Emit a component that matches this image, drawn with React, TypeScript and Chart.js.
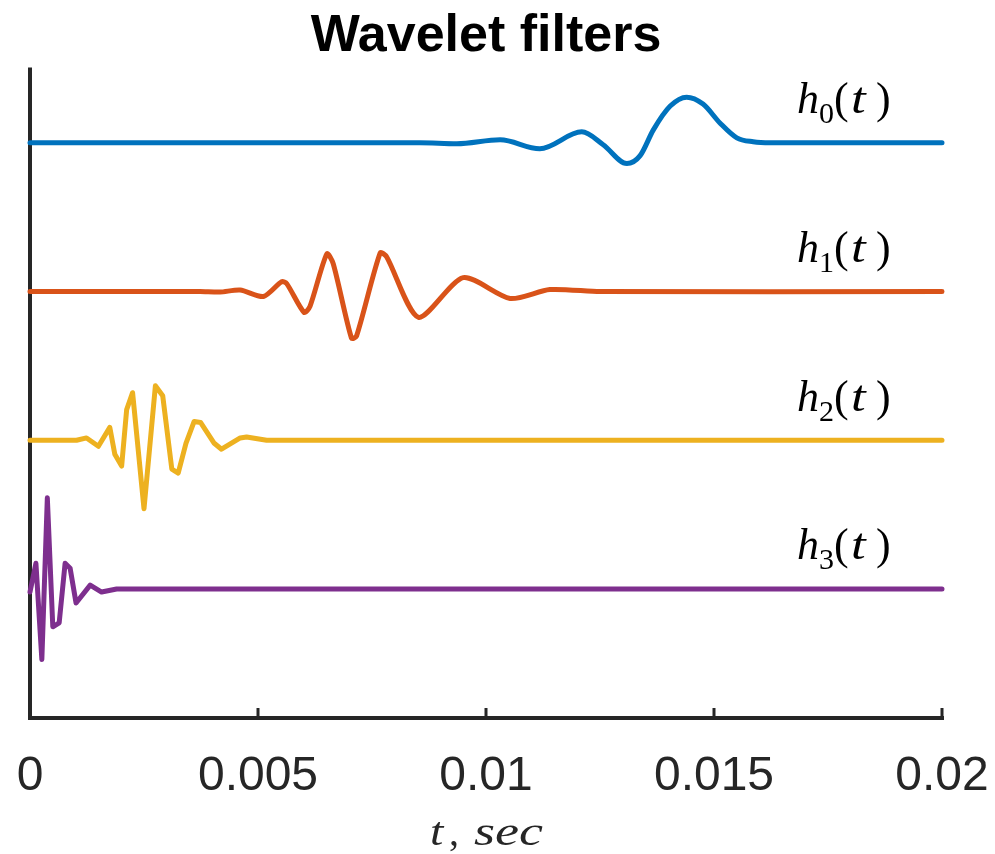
import React, { useEffect, useRef } from 'react';
import { Chart, registerables } from 'chart.js';

Chart.register(...registerables);

const TITLE = 'Wavelet filters';
const X_TICKS = [0, 0.005, 0.01, 0.015, 0.02];
const X_TICK_LABELS = ['0', '0.005', '0.01', '0.015', '0.02'];
const SERIES_SUBSCRIPTS = ['0', '1', '2', '3'];
const SERIES_COLORS = ['#0072BD', '#D95319', '#EDB120', '#7E2F8E'];
const SERIES_OFFSETS = [450, 300, 150, 0];
const LABEL_T = 0.01682;
const LABEL_RISE = 30;

// h0(t)
const T_H0 = [0, 0.00855, 0.00936, 0.01031, 0.01118, 0.0121, 0.01257, 0.01309, 0.01338, 0.01367, 0.01404, 0.0144, 0.01476, 0.01513, 0.0155, 0.01586, 0.01623, 0.02];
const A_H0 = [0, 0, -1, 3, -6, 11, -2, -21, -13, 13, 37, 46, 39, 20, 5, 1, 0, 0];

// h1(t)
const T_H1 = [0, 0.00373, 0.00417, 0.00461, 0.00512, 0.00552, 0.00563, 0.00601, 0.00614, 0.00651, 0.00665, 0.00705, 0.00716, 0.00768, 0.00782, 0.00852, 0.0095, 0.01053, 0.0114, 0.0125, 0.02];
const A_H1 = [0, 0, -0.5, 1.5, -5, 10, 8, -21, -15, 38, 28, -47, -45, 39, 35, -26, 14, -7, 2, 0, 0];

// h2(t)
const T_H2 = [0, 0.00102, 0.00124, 0.0015, 0.00175, 0.00186, 0.00201, 0.00212, 0.00225, 0.0025, 0.00275, 0.00291, 0.00311, 0.00325, 0.00342, 0.0036, 0.00374, 0.00404, 0.0042, 0.00461, 0.00475, 0.00519, 0.02];
const A_H2 = [0, 0, 2.4, -6, 13, -14, -26, 31, 48, -69, 55, 45, -29, -33, -3, 19, 18, -3, -9, 2.4, 3.4, 0, 0];

// h3(t)
const T_H3 = [0, 0.00013, 0.00026, 0.00038, 0.0005, 0.00064, 0.00077, 0.00088, 0.00101, 0.00132, 0.00157, 0.0019, 0.02];
const A_H3 = [-3, 26, -71, 92, -38, -34, 26, 21, -14, 4, -3, 0, 0];

const SERIES_T = [T_H0, T_H1, T_H2, T_H3];
const SERIES_A = [A_H0, A_H1, A_H2, A_H3];
const SERIES_MONOTONE = [true, false, false, false];
const SERIES_TENSION = [0, 0.25, 0, 0];

const AXIS_COLOR = '#262626';
const SANS = '"Liberation Sans", Arial, Helvetica, sans-serif';
const SERIF = '"Liberation Serif", "Times New Roman", serif';

const axesPlugin = {
  id: 'matlabAxes',
  beforeDatasetsDraw(chart: any) {
    const { ctx, chartArea, scales } = chart;
    const xs = scales.x;
    ctx.save();
    ctx.strokeStyle = AXIS_COLOR;
    ctx.lineWidth = 4;
    ctx.lineCap = 'butt';
    ctx.beginPath();
    ctx.moveTo(chartArea.left, chartArea.top);
    ctx.lineTo(chartArea.left, chartArea.bottom);
    ctx.moveTo(chartArea.left - 2, chartArea.bottom);
    ctx.lineTo(chartArea.right + 2, chartArea.bottom);
    ctx.stroke();
    ctx.lineWidth = 3;
    ctx.beginPath();
    X_TICKS.forEach((v) => {
      const px = xs.getPixelForValue(v);
      ctx.moveTo(px, chartArea.bottom);
      ctx.lineTo(px, chartArea.bottom - 10);
    });
    ctx.stroke();
    // tick labels
    ctx.fillStyle = AXIS_COLOR;
    ctx.font = `48px ${SANS}`;
    ctx.textAlign = 'center';
    ctx.textBaseline = 'alphabetic';
    X_TICKS.forEach((v, i) => {
      ctx.fillText(X_TICK_LABELS[i], xs.getPixelForValue(v), chartArea.bottom + 72);
    });
    ctx.restore();
  },
};

function drawScaled(ctx: CanvasRenderingContext2D, text: string, x: number, y: number, sx: number) {
  ctx.save();
  ctx.translate(x, y);
  ctx.scale(sx, 1);
  ctx.fillText(text, 0, 0);
  ctx.restore();
}

const textPlugin = {
  id: 'mathText',
  afterDraw(chart: any) {
    const { ctx, chartArea, scales } = chart;
    const xs = scales.x;
    const ys = scales.y;
    ctx.save();
    ctx.fillStyle = '#000';
    ctx.textAlign = 'left';
    ctx.textBaseline = 'alphabetic';
    SERIES_SUBSCRIPTS.forEach((sub, i) => {
      const x0 = xs.getPixelForValue(LABEL_T);
      const yb = ys.getPixelForValue(SERIES_OFFSETS[i] + LABEL_RISE);
      ctx.font = `italic 44px ${SERIF}`;
      drawScaled(ctx, 'h', x0, yb, 1.0);
      ctx.font = `30px ${SERIF}`;
      drawScaled(ctx, sub, x0 + 22, yb + 10, 1.0);
      ctx.font = `44px ${SERIF}`;
      drawScaled(ctx, '(', x0 + 37, yb, 1.0);
      ctx.font = `italic 44px ${SERIF}`;
      drawScaled(ctx, 't', x0 + 54, yb, 1.2);
      ctx.font = `44px ${SERIF}`;
      drawScaled(ctx, ')', x0 + 79, yb, 1.0);
    });
    // x axis title "t, sec"
    const cx = (chartArea.left + chartArea.right) / 2;
    const yb = chart.height - 9;
    ctx.fillStyle = AXIS_COLOR;
    ctx.font = `italic 40px ${SERIF}`;
    drawScaled(ctx, 't', cx - 56, yb, 1.2);
    ctx.font = `40px ${SERIF}`;
    drawScaled(ctx, ',', cx - 37, yb, 1.0);
    ctx.font = `italic 40px ${SERIF}`;
    const w = ctx.measureText('sec').width;
    drawScaled(ctx, 'sec', cx - 12, yb, 69 / w);
    ctx.restore();
  },
};

export default function App() {
  const ref = useRef<HTMLCanvasElement | null>(null);

  useEffect(() => {
    document.body.style.margin = '0';
    const canvas = ref.current;
    if (!canvas) return;
    const datasets = SERIES_T.map((ts, i) => ({
      label: `h${SERIES_SUBSCRIPTS[i]}(t)`,
      data: ts.map((t, j) => ({ x: t, y: SERIES_A[i][j] + SERIES_OFFSETS[i] })),
      borderColor: SERIES_COLORS[i],
      backgroundColor: SERIES_COLORS[i],
      borderWidth: 5,
      pointRadius: 0,
      fill: false,
      cubicInterpolationMode: SERIES_MONOTONE[i] ? 'monotone' : 'default',
      tension: SERIES_TENSION[i],
      borderJoinStyle: 'round',
      borderCapStyle: 'round',
      clip: 8,
    }));
    const chart = new Chart(canvas, {
      type: 'line',
      data: { datasets } as any,
      options: {
        animation: false,
        responsive: false,
        maintainAspectRatio: false,
        layout: { padding: { left: 30, right: 53, top: 0, bottom: 136 } },
        plugins: {
          legend: { display: false },
          tooltip: { enabled: false },
          title: {
            display: true,
            text: TITLE,
            color: '#000',
            font: { family: SANS, size: 52, weight: 'bold' },
            padding: { top: 5, bottom: 0 },
          },
        },
        scales: {
          x: {
            type: 'linear',
            display: false,
            min: 0,
            max: 0.02,
          },
          y: {
            display: false,
            min: -130,
            max: 526,
          },
        },
      } as any,
      plugins: [axesPlugin, textPlugin],
    });
    return () => chart.destroy();
  }, []);

  return (
    <div style={{ width: 995, height: 854 }}>
      <canvas ref={ref} width={995} height={854} />
    </div>
  );
}
